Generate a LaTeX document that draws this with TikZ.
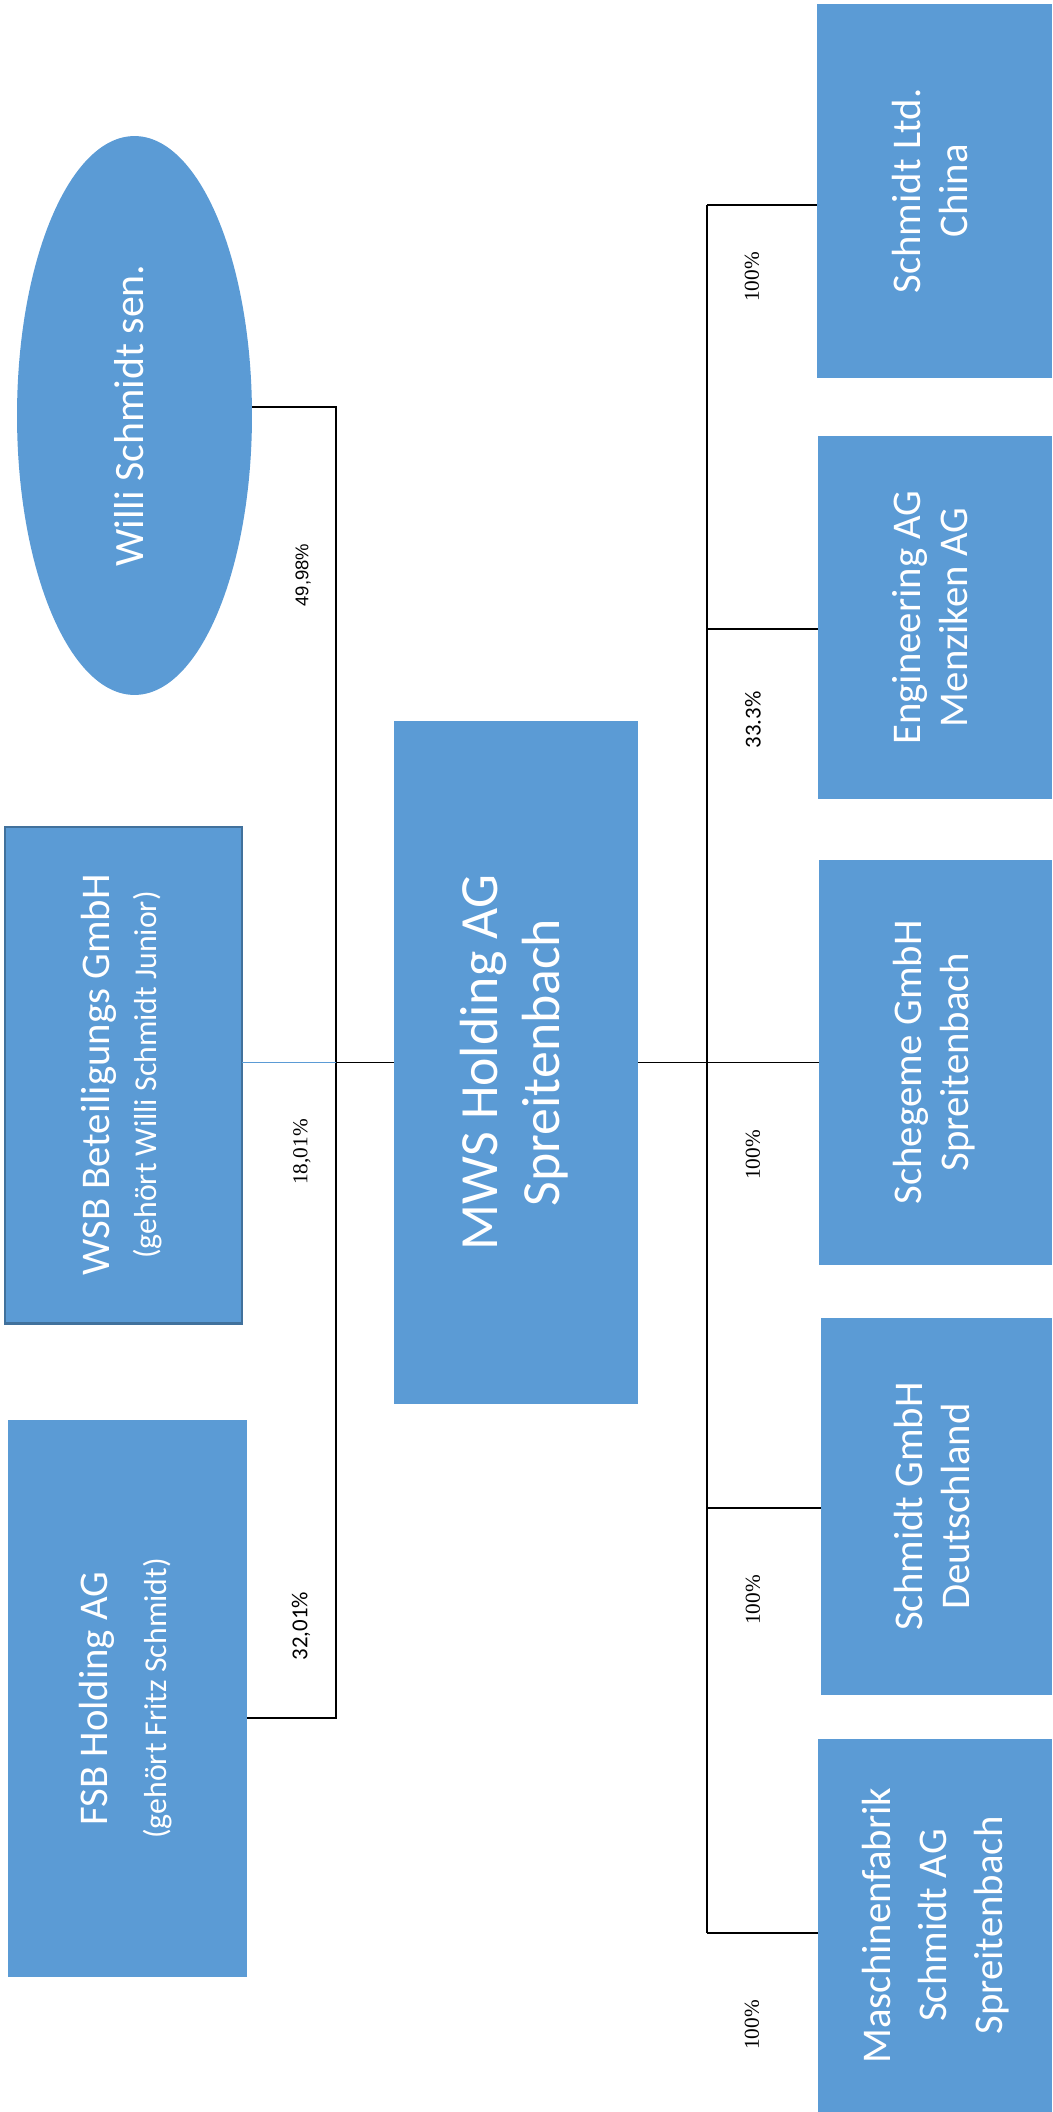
\documentclass[tikz,border=0pt]{standalone}
\usepackage{fontspec}
\usepackage{graphicx}
\setmainfont{Carlito}
\newfontfamily\serifpct{Liberation Serif}
\newfontfamily\sanspct{Liberation Sans}
\usetikzlibrary{shapes.geometric}
\definecolor{boxblue}{HTML}{5B9BD5}
\definecolor{boxedge}{HTML}{41719C}
\newcommand{\vertlabel}[1]{\rotatebox{90}{\begin{tabular}{@{}c@{}}#1\end{tabular}}}
\begin{document}
\begin{tikzpicture}[x=0.02cm, y=-0.02cm, line width=1.1pt,
    firm/.style={fill=boxblue, text=white, inner sep=0pt, outer sep=0pt, font=\fontsize{23.2}{26.6}\selectfont},
    pct/.style={rotate=90, inner sep=0pt}]
    \useasboundingbox (0,0) rectangle (1052,2112);
    \node[firm, ellipse, minimum width=4.7cm, minimum height=11.18cm, font=\fontsize{23.8}{27}\selectfont] (willi) at (134.5,415.5) {\vertlabel{Willi Schmidt sen.}};
    \node[firm, draw=boxedge, line width=1.2pt, minimum width=4.74cm, minimum height=9.94cm] (wsb) at (123.5,1075) {\vertlabel{WSB Beteiligungs GmbH\\{\fontsize{18.1}{20}\selectfont(gehört Willi Schmidt Junior)}}};
    \node[firm, minimum width=4.78cm, minimum height=11.14cm] (fsb) at (127.5,1698.5) {\vertlabel{FSB Holding AG\\[7pt]{\fontsize{18.1}{20}\selectfont(gehört Fritz Schmidt)}}};
    \node[firm, minimum width=4.88cm, minimum height=13.66cm, font=\fontsize{30.6}{35}\selectfont] (mws) at (516,1062.5) {\vertlabel{MWS Holding AG\\Spreitenbach}};
    \node[firm, minimum width=4.7cm, minimum height=7.48cm] (china) at (934.5,191) {\vertlabel{Schmidt Ltd.\\China}};
    \node[firm, minimum width=4.68cm, minimum height=7.26cm] (eng) at (935,617.5) {\vertlabel{Engineering AG\\Menziken AG}};
    \node[firm, minimum width=4.66cm, minimum height=8.1cm] (scheg) at (935.5,1062.5) {\vertlabel{Schegeme GmbH\\Spreitenbach}};
    \node[firm, minimum width=4.62cm, minimum height=7.54cm] (deut) at (936.5,1506.5) {\vertlabel{Schmidt GmbH\\Deutschland}};
    \node[firm, minimum width=4.68cm, minimum height=7.46cm, font=\fontsize{23.2}{32}\selectfont] (masch) at (935,1925.5) {\vertlabel{Maschinenfabrik\\Schmidt AG\\Spreitenbach}};

    \node[pct, font=\sanspct\fontsize{10.5}{12}\selectfont] (pwilli) at (303,575) {49,98\%};
    \node[pct, font=\serifpct\fontsize{12.1}{14}\selectfont] (pwsb) at (302,1152) {18,01\%};
    \node[pct, font=\fontsize{13}{15}\selectfont] (pfsb) at (301,1626) {32,01\%};
    \node[pct, font=\serifpct\fontsize{12.1}{14}\selectfont] (pchina) at (752,277) {100\%};
    \node[pct, font=\fontsize{13}{15}\selectfont] (peng) at (753,720) {33.3\%};
    \node[pct, font=\serifpct\fontsize{12.1}{14}\selectfont] (pscheg) at (753,1155) {100\%};
    \node[pct, font=\serifpct\fontsize{12.1}{14}\selectfont] (pdeut) at (753,1600) {100\%};
    \node[pct, font=\serifpct\fontsize{12.1}{14}\selectfont] (pmasch) at (752,2025) {100\%};

    \coordinate (ltop) at (336,407);
    \coordinate (lbot) at (336,1718);
    \coordinate (rtop) at (707,205);
    \coordinate (reng) at (707,629);
    \coordinate (rdeut) at (707,1508);
    \coordinate (rbot) at (707,1933);
    \draw (willi.east |- ltop) -- (ltop) -- (lbot) -- (fsb.east |- lbot);
    \draw[boxblue] (wsb.east |- mws.west) -- (ltop |- mws.west);
    \draw (ltop |- mws.west) -- (mws.west);
    \draw (mws.east) -- (scheg.west);
    \draw (rtop) -- (rbot);
    \draw (rtop) -- (china.west |- rtop);
    \draw (reng) -- (eng.west |- reng);
    \draw (rdeut) -- (deut.west |- rdeut);
    \draw (rbot) -- (masch.west |- rbot);
\end{tikzpicture}
\end{document}
